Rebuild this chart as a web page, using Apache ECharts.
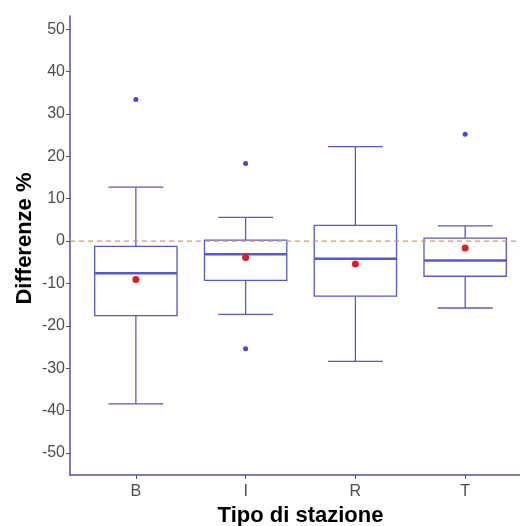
<!DOCTYPE html>
<html>
<head>
    <meta charset="utf-8">
    <title>Differenze %</title>
    <script src="https://cdn.jsdelivr.net/npm/echarts@6/dist/echarts.min.js"></script>
    <style>
        * { margin: 0; padding: 0; }
        body { background: #fff; }
    </style>
</head>
<body>
    <div id="main" style="width: 520px; height: 526px;"></div>
    <script type="text/javascript">
        // valori
        var categories = ['B', 'I', 'R', 'T'];
        var whiskerLow = [-38.4, -17.3, -28.4, -15.8];
        var q1 = [-17.6, -9.3, -13.0, -8.3];
        var median = [-7.6, -3.1, -4.2, -4.6];
        var q3 = [-1.25, 0.24, 3.7, 0.7];
        var whiskerHigh = [12.7, 5.6, 22.3, 3.6];
        var means = [-9.1, -3.9, -5.4, -1.65];
        var outliers = [[0, 33.4], [1, 18.3], [1, -25.4], [3, 25.2]];
        var yTicks = [-50, -40, -30, -20, -10, 0, 10, 20, 30, 40, 50];
        var refLine = [[-0.6, 0], [3.6, 0]];

        var boxColor = '#5656d8';
        var boxData = categories.map(function (c, i) {
            return [i, whiskerLow[i], q1[i], median[i], q3[i], whiskerHigh[i]];
        });

        var myChart = echarts.init(document.getElementById('main'));
        var option = {
            backgroundColor: '#fff',
            animation: false,
            grid: {
                left: 70,
                top: 16,
                width: 461,
                height: 459,
                outerBoundsMode: 'none'
            },
            xAxis: {
                type: 'value',
                min: -0.6,
                max: 3.6,
                name: 'Tipo di stazione',
                nameLocation: 'middle',
                nameGap: 25,
                nameTextStyle: {
                    fontFamily: 'Liberation Sans',
                    fontWeight: 'bold',
                    fontSize: 22,
                    color: '#000',
                    verticalAlign: 'top'
                },
                axisLine: { onZero: false, lineStyle: { color: '#5050a8', width: 1.5 } },
                axisTick: {
                    customValues: [0, 1, 2, 3],
                    length: 4,
                    lineStyle: { color: '#555' }
                },
                axisLabel: {
                    customValues: [0, 1, 2, 3],
                    formatter: function (v) { return categories[v]; },
                    fontFamily: 'Liberation Sans',
                    fontSize: 16,
                    color: '#4d4d4d',
                    margin: 9
                },
                splitLine: { show: false }
            },
            yAxis: {
                type: 'value',
                min: -55.2,
                max: 53.1,
                name: 'Differenze %',
                nameLocation: 'middle',
                nameGap: 34,
                nameMoveOverlap: false,
                nameTextStyle: {
                    fontFamily: 'Liberation Sans',
                    fontWeight: 'bold',
                    fontSize: 22,
                    color: '#000',
                    padding: [0, 0, 0, 14]
                },
                axisLine: { show: true, onZero: false, lineStyle: { color: '#5050a8', width: 1.5 } },
                axisTick: {
                    show: true,
                    customValues: yTicks,
                    length: 4,
                    lineStyle: { color: '#555' }
                },
                axisLabel: {
                    customValues: yTicks,
                    fontFamily: 'Liberation Sans',
                    fontSize: 16,
                    color: '#4d4d4d',
                    margin: 5
                },
                splitLine: { show: false }
            },
            series: [
                {
                    type: 'custom',
                    data: boxData,
                    renderItem: function (params, api) {
                        var x = api.value(0);
                        var lo = api.coord([x, api.value(1)]);
                        var b1 = api.coord([x, api.value(2)]);
                        var md = api.coord([x, api.value(3)]);
                        var b3 = api.coord([x, api.value(4)]);
                        var hi = api.coord([x, api.value(5)]);
                        var boxL = api.coord([x - 0.375, 0])[0];
                        var boxR = api.coord([x + 0.375, 0])[0];
                        var capL = api.coord([x - 0.25, 0])[0];
                        var capR = api.coord([x + 0.25, 0])[0];
                        var st = { stroke: boxColor, lineWidth: 1.3, fill: null };
                        return {
                            type: 'group',
                            children: [
                                { type: 'line', shape: { x1: lo[0], y1: lo[1], x2: b1[0], y2: b1[1] }, style: st },
                                { type: 'line', shape: { x1: hi[0], y1: hi[1], x2: b3[0], y2: b3[1] }, style: st },
                                { type: 'line', shape: { x1: capL, y1: lo[1], x2: capR, y2: lo[1] }, style: st },
                                { type: 'line', shape: { x1: capL, y1: hi[1], x2: capR, y2: hi[1] }, style: st },
                                { type: 'rect', shape: { x: boxL, y: b3[1], width: boxR - boxL, height: b1[1] - b3[1] }, style: { stroke: boxColor, lineWidth: 1.3, fill: '#fff' } },
                                { type: 'line', shape: { x1: boxL, y1: md[1], x2: boxR, y2: md[1] }, style: { stroke: boxColor, lineWidth: 2.5 } }
                            ]
                        };
                    },
                    z: 2
                },
                {
                    type: 'line',
                    data: refLine,
                    symbol: 'none',
                    silent: true,
                    lineStyle: { color: '#e0964a', type: [5, 4], width: 1.2 },
                    z: 3
                },
                {
                    type: 'scatter',
                    data: outliers,
                    symbolSize: 5,
                    itemStyle: { color: '#4646e0', opacity: 1 },
                    z: 4
                },
                {
                    type: 'scatter',
                    data: means.map(function (m, i) { return [i, m]; }),
                    symbolSize: 7,
                    itemStyle: { color: '#e31a1c', opacity: 1 },
                    z: 5
                }
            ]
        };
        myChart.setOption(option);
    </script>
</body>
</html>
